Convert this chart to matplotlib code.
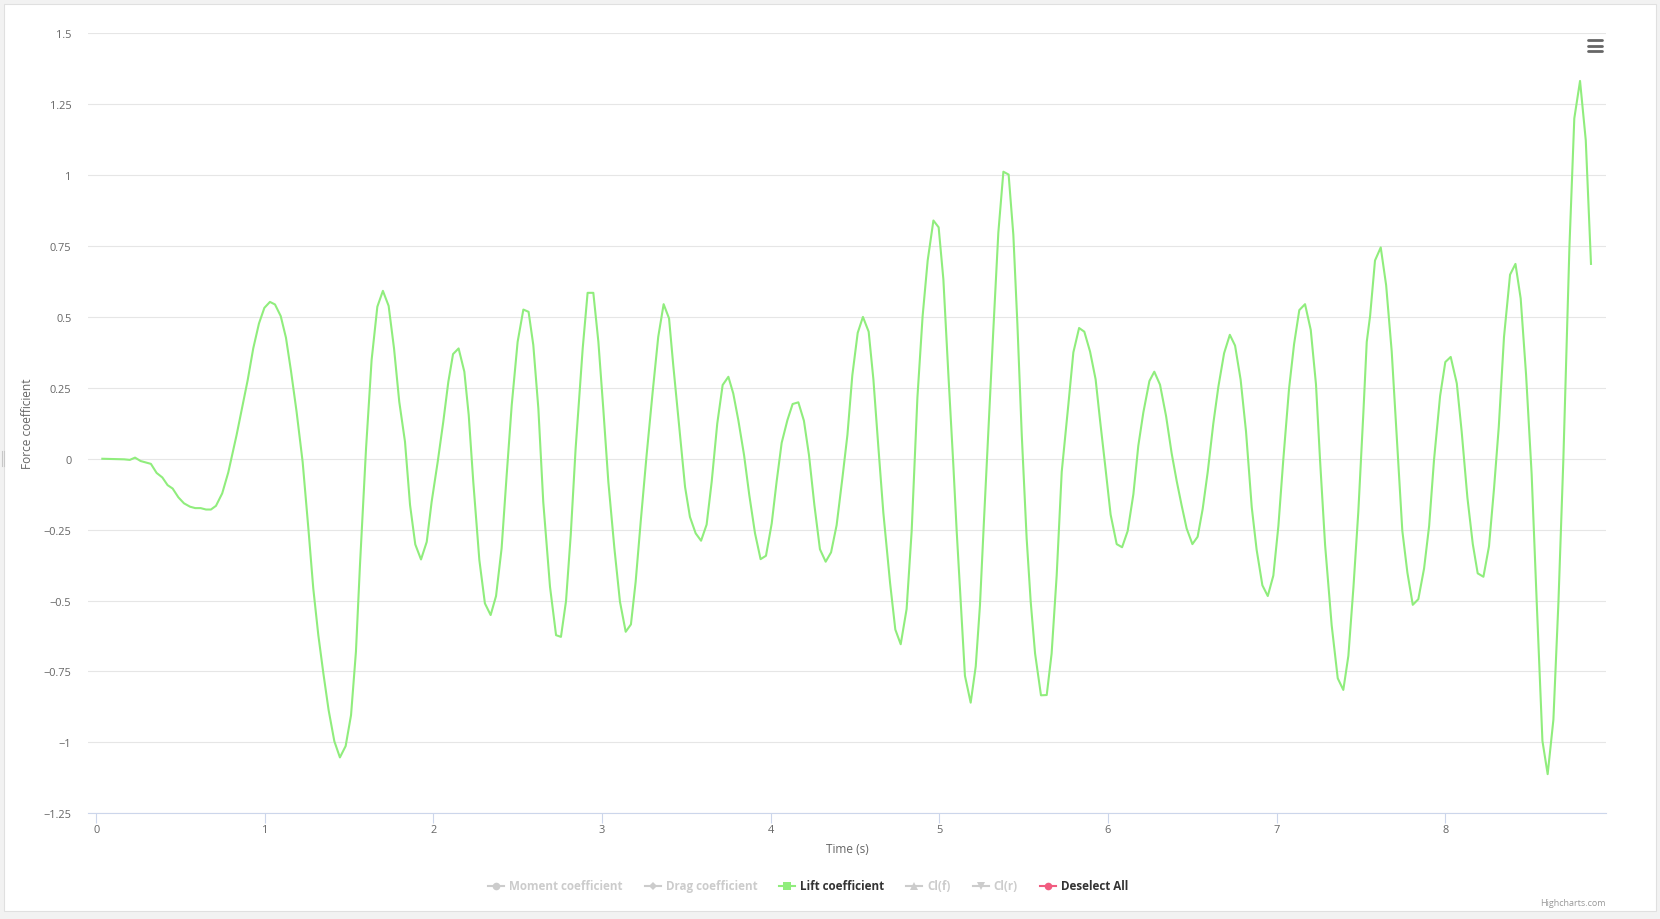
import matplotlib
matplotlib.use("Agg")
import matplotlib.pyplot as plt
from matplotlib.lines import Line2D
from matplotlib.patches import Rectangle

# Lift coefficient (time in s)
time_s = [
    0.036, 0.100, 0.165, 0.199, 0.230, 0.263, 0.324, 0.358, 0.392, 0.423,
    0.453, 0.487, 0.520, 0.556, 0.587, 0.619, 0.651, 0.680, 0.710, 0.747,
    0.783, 0.832, 0.898, 0.931, 0.965, 0.997, 1.030, 1.060, 1.094, 1.125,
    1.155, 1.188, 1.224, 1.258, 1.287, 1.317, 1.347, 1.378, 1.412, 1.445,
    1.479, 1.511, 1.540, 1.564, 1.600, 1.633, 1.667, 1.700, 1.734, 1.766,
    1.797, 1.831, 1.861, 1.892, 1.926, 1.960, 1.989, 2.025, 2.058, 2.088,
    2.116, 2.149, 2.183, 2.209, 2.236, 2.272, 2.305, 2.339, 2.371, 2.404,
    2.434, 2.464, 2.499, 2.533, 2.564, 2.592, 2.622, 2.651, 2.691, 2.727,
    2.756, 2.786, 2.814, 2.843, 2.885, 2.914, 2.948, 2.978, 3.007, 3.037,
    3.073, 3.106, 3.140, 3.171, 3.199, 3.229, 3.264, 3.300, 3.333, 3.365,
    3.397, 3.422, 3.462, 3.492, 3.521, 3.555, 3.587, 3.620, 3.650, 3.683,
    3.715, 3.749, 3.778, 3.808, 3.842, 3.873, 3.907, 3.940, 3.972, 4.006,
    4.035, 4.065, 4.099, 4.130, 4.164, 4.197, 4.227, 4.259, 4.292, 4.326,
    4.358, 4.391, 4.425, 4.455, 4.484, 4.516, 4.547, 4.581, 4.609, 4.638,
    4.668, 4.708, 4.739, 4.771, 4.806, 4.836, 4.870, 4.901, 4.931, 4.965,
    4.996, 5.024, 5.054, 5.083, 5.103, 5.127, 5.152, 5.186, 5.216, 5.241,
    5.265, 5.291, 5.320, 5.350, 5.380, 5.411, 5.439, 5.463, 5.489, 5.518,
    5.542, 5.568, 5.603, 5.637, 5.666, 5.696, 5.726, 5.765, 5.795, 5.829,
    5.860, 5.894, 5.927, 5.953, 5.983, 6.016, 6.052, 6.084, 6.117, 6.151,
    6.180, 6.210, 6.246, 6.275, 6.309, 6.345, 6.378, 6.408, 6.437, 6.467,
    6.501, 6.532, 6.562, 6.592, 6.625, 6.655, 6.689, 6.723, 6.754, 6.787,
    6.819, 6.853, 6.882, 6.916, 6.948, 6.981, 7.011, 7.040, 7.074, 7.104,
    7.135, 7.169, 7.203, 7.234, 7.258, 7.288, 7.327, 7.363, 7.396, 7.426,
    7.456, 7.485, 7.515, 7.535, 7.555, 7.584, 7.618, 7.650, 7.683, 7.713,
    7.746, 7.776, 7.808, 7.841, 7.875, 7.905, 7.934, 7.970, 8.001, 8.033,
    8.069, 8.098, 8.132, 8.164, 8.193, 8.227, 8.260, 8.290, 8.318, 8.349,
    8.385, 8.417, 8.448, 8.480, 8.513, 8.543, 8.577, 8.608, 8.642, 8.672,
    8.701, 8.721, 8.737, 8.766, 8.800, 8.834, 8.865,
]
lift = [
    0.000, -0.001, -0.002, -0.004, 0.004, -0.008, -0.018, -0.050, -0.066, -0.093,
    -0.105, -0.136, -0.157, -0.169, -0.174, -0.174, -0.179, -0.179, -0.166, -0.122,
    -0.048, 0.083, 0.277, 0.389, 0.477, 0.532, 0.553, 0.544, 0.503, 0.427,
    0.309, 0.166, -0.011, -0.246, -0.457, -0.622, -0.757, -0.886, -0.996, -1.053,
    -1.013, -0.904, -0.681, -0.375, 0.036, 0.348, 0.536, 0.592, 0.539, 0.389,
    0.201, 0.060, -0.163, -0.302, -0.355, -0.293, -0.152, -0.011, 0.130, 0.271,
    0.369, 0.389, 0.307, 0.154, -0.081, -0.357, -0.510, -0.551, -0.484, -0.316,
    -0.058, 0.189, 0.412, 0.526, 0.518, 0.401, 0.177, -0.152, -0.451, -0.622,
    -0.628, -0.502, -0.269, 0.036, 0.389, 0.585, 0.585, 0.412, 0.177, -0.081,
    -0.316, -0.504, -0.610, -0.584, -0.434, -0.222, 0.013, 0.236, 0.430, 0.545,
    0.495, 0.330, 0.083, -0.099, -0.205, -0.263, -0.289, -0.232, -0.081, 0.124,
    0.260, 0.289, 0.230, 0.136, 0.013, -0.128, -0.263, -0.354, -0.342, -0.228,
    -0.081, 0.056, 0.136, 0.193, 0.199, 0.134, 0.013, -0.163, -0.319, -0.363,
    -0.330, -0.234, -0.069, 0.084, 0.294, 0.444, 0.500, 0.448, 0.280, 0.045,
    -0.190, -0.438, -0.602, -0.654, -0.530, -0.255, 0.215, 0.503, 0.699, 0.840,
    0.816, 0.633, 0.294, -0.020, -0.255, -0.504, -0.765, -0.860, -0.732, -0.517,
    -0.216, 0.100, 0.450, 0.797, 1.012, 1.002, 0.790, 0.476, 0.084, -0.281,
    -0.504, -0.687, -0.834, -0.833, -0.687, -0.412, -0.046, 0.189, 0.375, 0.461,
    0.448, 0.378, 0.280, 0.137, -0.020, -0.197, -0.301, -0.312, -0.255, -0.125,
    0.045, 0.163, 0.274, 0.307, 0.261, 0.150, 0.019, -0.079, -0.164, -0.246,
    -0.301, -0.275, -0.177, -0.046, 0.124, 0.254, 0.372, 0.437, 0.399, 0.279,
    0.096, -0.171, -0.321, -0.446, -0.484, -0.412, -0.237, -0.004, 0.246, 0.404,
    0.524, 0.545, 0.454, 0.262, -0.004, -0.304, -0.587, -0.774, -0.815, -0.695,
    -0.454, -0.187, 0.162, 0.412, 0.504, 0.699, 0.745, 0.612, 0.379, 0.079,
    -0.254, -0.401, -0.515, -0.495, -0.387, -0.237, -0.004, 0.221, 0.341, 0.359,
    0.266, 0.096, -0.137, -0.301, -0.404, -0.416, -0.309, -0.104, 0.112, 0.429,
    0.649, 0.687, 0.565, 0.296, -0.054, -0.504, -0.995, -1.112, -0.920, -0.504,
    -0.004, 0.412, 0.745, 1.200, 1.332, 1.123, 0.687,
]

y_ticks = [1.5, 1.25, 1, 0.75, 0.5, 0.25, 0, -0.25, -0.5, -0.75, -1, -1.25]
y_labels = ["1.5", "1.25", "1", "0.75", "0.5", "0.25", "0",
            "\u22120.25", "\u22120.5", "\u22120.75", "\u22121", "\u22121.25"]
x_ticks = [0, 1, 2, 3, 4, 5, 6, 7, 8]

legend_names = ["Moment coefficient", "Drag coefficient", "Lift coefficient",
                "Cl(f)", "Cl(r)", "Deselect All"]
legend_markers = ["o", "D", "s", "^", "v", "o"]
legend_colors = ["#cccccc", "#cccccc", "#90ed7d", "#cccccc", "#cccccc", "#f15c80"]
legend_active = [False, False, True, False, False, True]

plt.rcParams["font.family"] = ["Open Sans", "DejaVu Sans"]

W, H = 1660, 920


def fx(px):
    return px / W


def fy(py):
    return 1 - py / H


fig = plt.figure(figsize=(W / 100, H / 100), dpi=100, facecolor="#f2f2f2")

# white chart container (behind the axes)
fig.patches.append(Rectangle((fx(4), fy(912)), fx(1652), (912 - 5) / H,
                             transform=fig.transFigure, facecolor="white",
                             edgecolor="#e0e0e0", lw=0.8, zorder=-10))
# small resize grip on the left edge
for gx in (1.5, 4.0):
    fig.lines.append(Line2D([fx(gx), fx(gx)], [fy(452), fy(467)],
                            transform=fig.transFigure, color="#c8c8c8", lw=0.8))

ax = fig.add_axes([fx(88), fy(814.3), fx(1606 - 88), (814.3 - 34.3) / H])
ax.set_zorder(1)
ax.patch.set_alpha(0)
ax.plot(time_s, lift, color="#90ed7d", lw=1.5, solid_joinstyle="round", zorder=3)

ax.set_xlim(-0.049, 8.954)
ax.set_ylim(-1.25, 1.5)
ax.set_yticks(y_ticks)
ax.set_yticklabels(y_labels)
ax.set_xticks(x_ticks)
ax.set_xticklabels([str(t) for t in x_ticks])
ax.yaxis.grid(True, color="#e6e6e6", lw=0.8)
ax.set_axisbelow(True)

for side in ["left", "right", "top"]:
    ax.spines[side].set_visible(False)
ax.spines["bottom"].set_color("#ccd6eb")
ax.spines["bottom"].set_linewidth(0.8)

ax.tick_params(axis="y", length=0, pad=12, labelcolor="#666666", labelsize=7.9)
ax.tick_params(axis="x", length=7, width=0.8, color="#ccd6eb", pad=0.5,
               labelcolor="#666666", labelsize=7.9)

fig.text(fx(847), fy(850), "Time (s)", ha="center", va="center",
         color="#666666", fontsize=8.6)
fig.text(fx(27.5), fy(424), "Force coefficient", ha="center", va="center",
         rotation=90, color="#666666", fontsize=8.6)

# export menu button
for my in (41.3, 46.5, 51.7):
    fig.lines.append(Line2D([fx(1588), fx(1602)], [fy(my), fy(my)],
                            transform=fig.transFigure, color="#666666",
                            lw=2.0, solid_capstyle="round"))

fig.text(fx(1606), fy(904), "Highcharts.com", ha="right", va="center",
         color="#999999", fontsize=6.5)

# legend drawn by hand, laid out left to right
renderer = fig.canvas.get_renderer()
x = 488.0
ly = 886.5
for name, mk, col, active in zip(legend_names, legend_markers, legend_colors, legend_active):
    fig.lines.append(Line2D([fx(x), fx(x + 16)], [fy(ly), fy(ly)],
                            transform=fig.transFigure, color=col, lw=1.5))
    fig.lines.append(Line2D([fx(x + 8)], [fy(ly)], transform=fig.transFigure,
                            marker=mk, color=col, markersize=5.5 if mk != "D" else 4.5,
                            markeredgewidth=0))
    txt = fig.text(fx(x + 21), fy(ly), name, ha="left", va="center",
                   fontsize=8.4, fontweight="bold",
                   color="#333333" if active else "#cccccc")
    w = txt.get_window_extent(renderer).width
    x = x + 21 + w + 22

fig.savefig("out.png", dpi=100, facecolor=fig.get_facecolor())
